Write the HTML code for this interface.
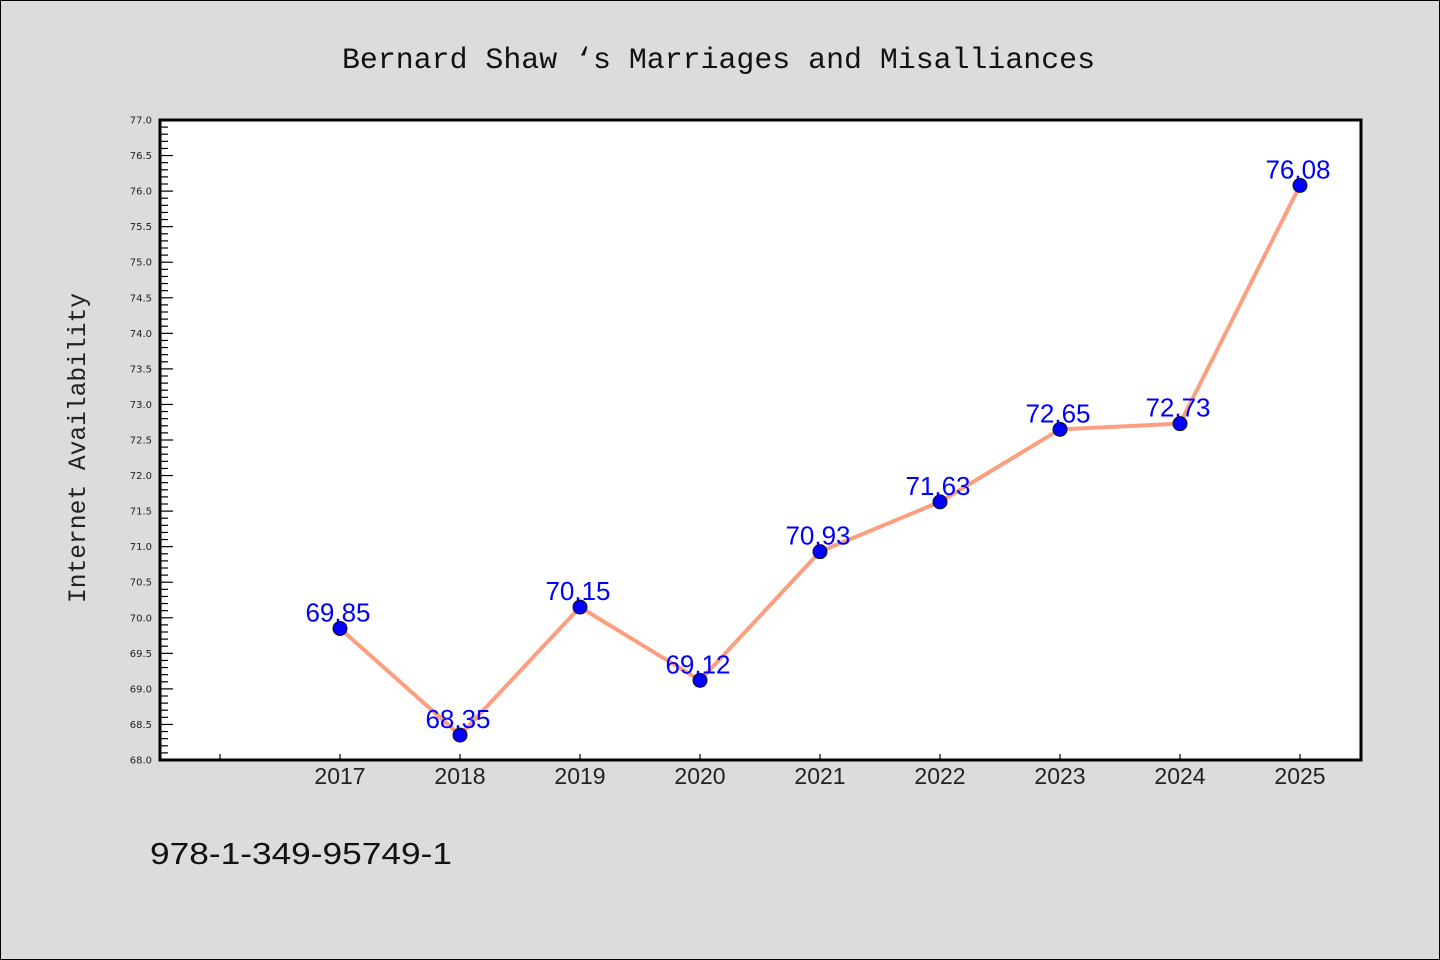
<!DOCTYPE html>
<html><head><meta charset="utf-8"><style>
html,body{margin:0;padding:0;background:#dcdcdc;}
svg{display:block;}
</style></head><body>
<svg width="1440" height="960" xmlns="http://www.w3.org/2000/svg">
<rect x="0.5" y="0.5" width="1439" height="959" fill="#dcdcdc" stroke="#000" stroke-width="1"/>
<text x="342" y="68" textLength="753" lengthAdjust="spacingAndGlyphs" font-family="Liberation Mono, monospace" font-size="30" fill="#111">Bernard Shaw ‘s Marriages and Misalliances</text>
<rect x="160" y="120" width="1201" height="640" fill="#fff"/>
<g id="ticks"></g>
<g id="series"></g>
<rect x="160" y="120" width="1201" height="640" fill="none" stroke="#000" stroke-width="3"/>
<text transform="translate(85,603) rotate(-90)" textLength="310" lengthAdjust="spacingAndGlyphs" font-family="Liberation Mono, monospace" font-size="25" fill="#222">Internet Availability</text>
<text x="150" y="864" textLength="302" lengthAdjust="spacingAndGlyphs" font-family="Liberation Sans, sans-serif" font-size="31" fill="#111">978-1-349-95749-1</text>
</svg>
<script>
const categories = ["2017","2018","2019","2020","2021","2022","2023","2024","2025"];
const values = [69.85,68.35,70.15,69.12,70.93,71.63,72.65,72.73,76.08];
const yTicks = [68.0,68.5,69.0,69.5,70.0,70.5,71.0,71.5,72.0,72.5,73.0,73.5,74.0,74.5,75.0,75.5,76.0,76.5,77.0];
const NS="http://www.w3.org/2000/svg";
const yMin=68,yMax=77,plotTop=120,plotBot=760,plotLeft=160;
function yS(v){return plotBot-(v-yMin)/(yMax-yMin)*(plotBot-plotTop);}
function xS(i){return 340+i*120;}
function mk(t,a,p){const e=document.createElementNS(NS,t);for(const k in a)e.setAttribute(k,a[k]);p.appendChild(e);return e;}
const tg=document.getElementById('ticks'), sg=document.getElementById('series');
for(let k=0;k<=90;k++){const v=yMin+k*0.1;const major=k%5===0;
 const l=mk('line',{x1:plotLeft,x2:plotLeft+(major?13:8),y1:yS(v),y2:yS(v),stroke:'#000','stroke-width':1.2},tg);
 
 }
yTicks.forEach(v=>{const t=mk('text',{x:152,y:yS(v)+3.5,'text-anchor':'end','font-family':'DejaVu Sans, sans-serif','font-size':10,fill:'#222'},tg);t.textContent=v.toFixed(1);
 
 });
for(let i=-1;i<categories.length;i++){const l=mk('line',{x1:xS(i),x2:xS(i),y1:plotBot,y2:plotBot-6,stroke:'#000','stroke-width':1.2},tg);
 
 }
categories.forEach((c,i)=>{const t=mk('text',{x:xS(i),y:784,'text-anchor':'middle','font-family':'Liberation Sans, sans-serif','font-size':23,fill:'#222'},tg);t.textContent=c;
 
 });
const pl=mk('polyline',{points:values.map((v,i)=>xS(i)+','+yS(v)).join(' '),fill:'none',stroke:'#fa9f7f','stroke-width':4,'stroke-linejoin':'round'},sg);


values.forEach((v,i)=>{const c=mk('circle',{cx:xS(i),cy:yS(v),r:7,fill:'#0000ff',stroke:'#111','stroke-width':1},sg);
 
 
 const t=mk('text',{x:xS(i)-2,y:yS(v)-7,'text-anchor':'middle','font-family':'Liberation Sans, sans-serif','font-size':26,fill:'#0000ff'},sg);t.textContent=v.toFixed(2);
 
 });
</script>
</body></html>
